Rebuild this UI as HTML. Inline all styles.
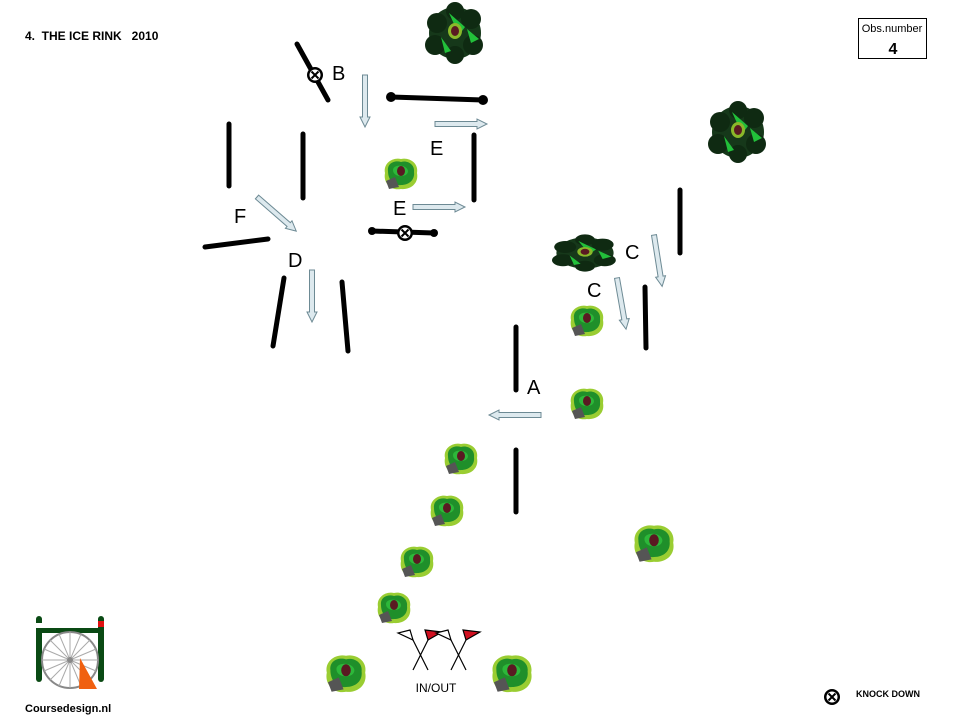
<!DOCTYPE html>
<html><head><meta charset="utf-8"><style>
html,body{margin:0;padding:0;background:#fff;}
svg{display:block;font-family:"Liberation Sans",sans-serif;}
</style></head><body>
<svg width="960" height="720" viewBox="0 0 960 720" xmlns="http://www.w3.org/2000/svg">
<defs>
<g id="bush">
  <path d="M-16,-2 C-18,-12 -8,-18 0,-16 C8,-18 18,-12 16,-2 C18,8 10,15 0,14 C-10,16 -18,8 -16,-2Z" fill="#9acd32"/>
  <path d="M-13,-4 C-14,-12 -6,-15 0,-13 C7,-15 14,-10 13,-3 C14,5 8,10 0,10 C-8,11 -13,4 -13,-4Z" fill="#1f8f2a"/>
  <path d="M-8,-5 C-8,-11 6,-11 7,-4 C7,3 -8,3 -8,-5Z" fill="#2db83a"/>
  <ellipse cx="0" cy="-4" rx="4" ry="5" fill="#5a1a22"/>
  <path d="M-15,6 L-6,2 L-2,12 L-12,14Z" fill="#555"/>
</g>
<g id="tree">
  <circle cx="0" cy="0" r="26" fill="#16381a"/>
  <circle cx="-18" cy="-10" r="10" fill="#0f2a12"/><circle cx="16" cy="-14" r="10" fill="#0f2a12"/>
  <circle cx="-20" cy="12" r="10" fill="#0f2a12"/><circle cx="18" cy="12" r="10" fill="#0f2a12"/>
  <circle cx="0" cy="22" r="9" fill="#0f2a12"/><circle cx="0" cy="-22" r="9" fill="#0f2a12"/>
  <path d="M-6,-20 L10,-6 L4,2Z M12,-4 L24,6 L16,10Z M-14,4 L-4,18 L-10,20Z" fill="#22c03a"/>
  <ellipse cx="0" cy="-2" rx="7" ry="8" fill="#8ab82a"/>
  <ellipse cx="0" cy="-2" rx="4" ry="5" fill="#5a1a22"/>
</g>
<g id="ko">
  <circle r="8" fill="#000"/><circle r="5.5" fill="#fff"/>
  <path d="M-3.5,-3.5 L3.5,3.5 M3.5,-3.5 L-3.5,3.5" stroke="#000" stroke-width="2"/>
</g>
<g id="arr">
  <path d="M0,-2.5 L42,-2.5 L42,-5 L52,0 L42,5 L42,2.5 L0,2.5Z" fill="#dde9ee" stroke="#6d8a94" stroke-width="1"/>
</g>
</defs>

<text x="25" y="40" font-size="12" font-weight="bold" xml:space="preserve">4.  THE ICE RINK   2010</text>
<rect x="858.5" y="18.5" width="68" height="40" fill="#fff" stroke="#000"/>
<text x="892" y="32" font-size="11" text-anchor="middle">Obs.number</text>
<text x="893" y="54" font-size="16" font-weight="bold" text-anchor="middle">4</text>

<g stroke="#000" stroke-width="5" stroke-linecap="round" fill="none">
  <line x1="297" y1="44" x2="328" y2="100"/>
  <line x1="391" y1="97" x2="483" y2="100"/>
  <line x1="229" y1="124" x2="229" y2="186"/>
  <line x1="303" y1="134" x2="303" y2="198"/>
  <line x1="205" y1="247" x2="268" y2="239"/>
  <line x1="372" y1="231" x2="434" y2="233"/>
  <line x1="474" y1="135" x2="474" y2="200"/>
  <line x1="284" y1="278" x2="273" y2="346"/>
  <line x1="342" y1="282" x2="348" y2="351"/>
  <line x1="680" y1="190" x2="680" y2="253"/>
  <line x1="645" y1="287" x2="646" y2="348"/>
  <line x1="516" y1="327" x2="516" y2="390"/>
  <line x1="516" y1="450" x2="516" y2="512"/>
</g>
<g fill="#000">
  <circle cx="391" cy="97" r="5"/><circle cx="483" cy="100" r="5"/>
  <circle cx="372" cy="231" r="4"/><circle cx="434" cy="233" r="4"/>
</g>
<use href="#ko" x="315" y="75"/>
<use href="#ko" x="405" y="233"/>

<use href="#arr" transform="translate(365,75) rotate(90)"/>
<use href="#arr" transform="translate(435,124)"/>
<use href="#arr" transform="translate(413,207)"/>
<use href="#arr" transform="translate(257,197) rotate(41)"/>
<use href="#arr" transform="translate(312,270) rotate(90)"/>
<use href="#arr" transform="translate(654,235) rotate(81)"/>
<use href="#arr" transform="translate(617,278) rotate(80)"/>
<use href="#arr" transform="translate(541,415) rotate(180)"/>

<g font-size="20">
  <text x="332" y="80">B</text>
  <text x="430" y="155">E</text>
  <text x="393" y="215">E</text>
  <text x="234" y="223">F</text>
  <text x="288" y="267">D</text>
  <text x="625" y="259">C</text>
  <text x="587" y="297">C</text>
  <text x="527" y="394">A</text>
</g>

<use href="#tree" x="455" y="33"/>
<use href="#tree" x="738" y="132"/>
<g transform="translate(585,253) scale(1.1,0.6)"><use href="#tree"/></g>
<use href="#bush" x="401" y="175"/>
<use href="#bush" x="587" y="322"/>
<use href="#bush" x="587" y="405"/>
<use href="#bush" x="461" y="460"/>
<use href="#bush" x="447" y="512"/>
<use href="#bush" x="417" y="563"/>
<use href="#bush" x="394" y="609"/>
<use href="#bush" transform="translate(346,675) scale(1.2)"/>
<use href="#bush" transform="translate(512,675) scale(1.2)"/>
<use href="#bush" transform="translate(654,545) scale(1.2)"/>

<g stroke="#000" stroke-width="1.2">
  <line x1="413" y1="670" x2="428" y2="640"/><line x1="428" y1="670" x2="413" y2="640"/>
  <line x1="451" y1="670" x2="466" y2="640"/><line x1="466" y1="670" x2="451" y2="640"/>
  <path d="M398,633 L413,640 L410,630Z" fill="#fff"/>
  <path d="M428,640 L442,632 L425,630Z" fill="#d01020"/>
  <path d="M436,633 L451,640 L448,630Z" fill="#fff"/>
  <path d="M466,640 L480,632 L463,630Z" fill="#d01020"/>
</g>
<text x="436" y="692" font-size="12" text-anchor="middle">IN/OUT</text>

<use href="#ko" x="832" y="697"/>
<text x="856" y="697" font-size="9" font-weight="bold">KNOCK DOWN</text>

<g>
  <rect x="36" y="616" width="6" height="66" rx="3" fill="#0a4a14"/>
  <rect x="98" y="616" width="6" height="66" rx="3" fill="#0a4a14"/>
  <rect x="36" y="623" width="6" height="5" fill="#fff"/>
  <rect x="98" y="621" width="6" height="6" fill="#e01010"/>
  <rect x="36" y="628" width="68" height="5" fill="#0a4a14"/>
  <circle cx="70" cy="660" r="28" fill="none" stroke="#888" stroke-width="2"/>
  <g stroke="#aaa" stroke-width="1">
    <line x1="42" y1="660" x2="98" y2="660"/><line x1="70" y1="632" x2="70" y2="688"/>
    <line x1="50" y1="640" x2="90" y2="680"/><line x1="90" y1="640" x2="50" y2="680"/>
    <line x1="44" y1="649" x2="96" y2="671"/><line x1="44" y1="671" x2="96" y2="649"/>
    <line x1="59" y1="634" x2="81" y2="686"/><line x1="81" y1="634" x2="59" y2="686"/>
  </g>
  <circle cx="70" cy="660" r="3" fill="#888"/>
  <path d="M80,658 L97,689 L79,689Z" fill="#f06010"/>
  <text x="25" y="712" font-size="11" font-weight="bold">Coursedesign.nl</text>
</g>
</svg>
</body></html>
